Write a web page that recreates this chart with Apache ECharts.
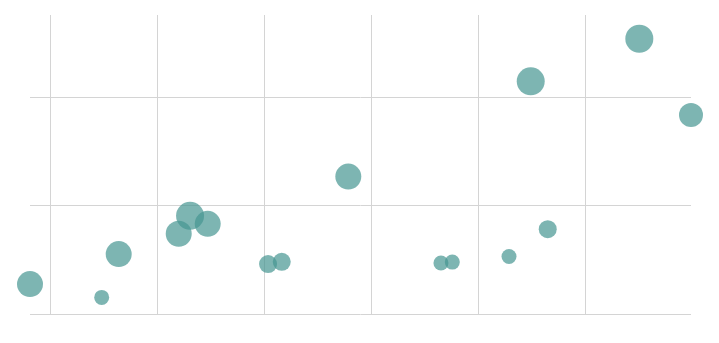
<!DOCTYPE html>
<html>
<head>
<meta charset="utf-8">
<script src="https://cdn.jsdelivr.net/npm/echarts@6/dist/echarts.min.js"></script>
<style>
html,body{margin:0;padding:0;background:#fff;}
#chart{width:719px;height:343px;}
</style>
</head>
<body>
<div id="chart"></div>
<script>
var xValues = [8.10, 14.80, 16.39, 22.0, 23.06, 24.71, 30.35, 31.63, 37.85, 46.51, 47.57, 52.87, 56.49, 54.90, 65.05, 69.88];
var yValues = [2.76, 1.53, 5.53, 7.40, 9.06, 8.32, 4.61, 4.82, 12.68, 4.70, 4.79, 5.31, 7.83, 21.47, 25.40, 18.37];
var sizeValues = [13, 7.5, 13, 13, 14, 13, 9, 9, 13, 7.5, 7.5, 7.5, 9, 14, 14, 12];
var xTicks = [10, 20, 30, 40, 50, 60];
var yTicks = [0, 10, 20];
var yMax = 27.59;

var points = xValues.map(function (x, i) { return [x, yValues[i], sizeValues[i]]; });

var chart = echarts.init(document.getElementById('chart'), null, {renderer: 'canvas'});
chart.setOption({
  animation: false,
  grid: {left: 30, right: 28, top: 15, bottom: 29, containLabel: false},
  xAxis: {
    type: 'value',
    min: 'dataMin',
    max: 'dataMax',
    axisLine: {show: false},
    axisTick: {show: false, customValues: xTicks},
    axisLabel: {show: false, customValues: xTicks},
    splitLine: {show: true, lineStyle: {color: '#d4d4d4', width: 1}}
  },
  yAxis: {
    type: 'value',
    min: yTicks[0],
    max: yMax,
    axisLine: {show: false},
    axisTick: {show: false, customValues: yTicks},
    axisLabel: {show: false, customValues: yTicks},
    splitLine: {show: true, lineStyle: {color: '#d4d4d4', width: 1}}
  },
  series: [{
    type: 'scatter',
    data: points,
    symbolSize: function (d) { return d[2] * 2; },
    itemStyle: {color: 'rgb(70,150,145)', opacity: 0.7}
  }]
});
</script>
</body>
</html>
